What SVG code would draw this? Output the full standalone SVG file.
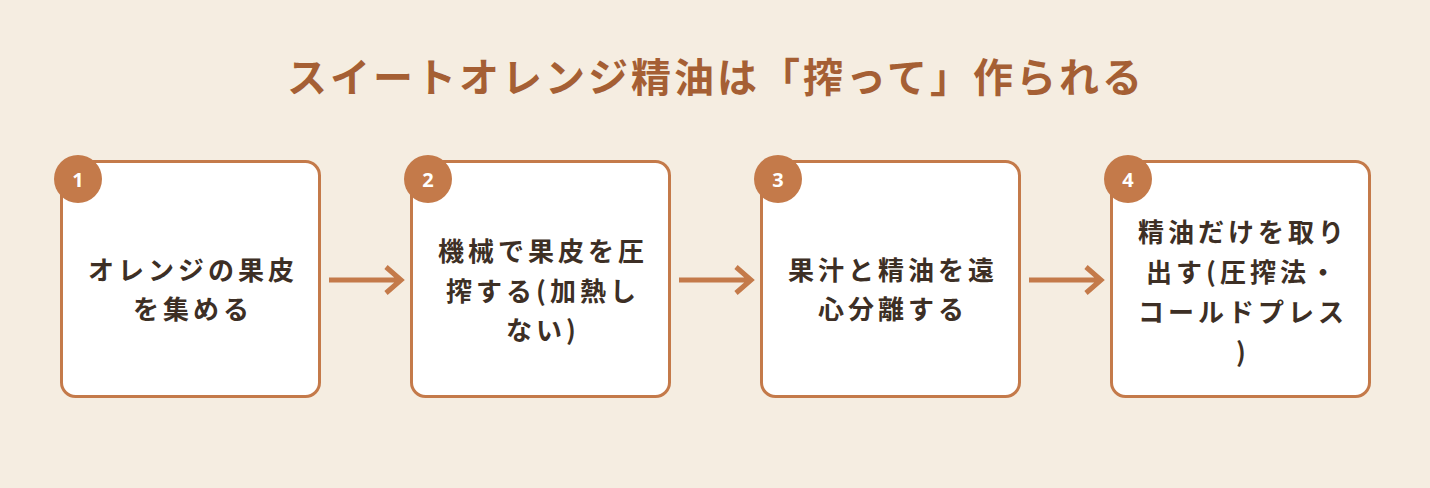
<svg xmlns="http://www.w3.org/2000/svg" width="1430" height="488" viewBox="0 0 1430 488">
<style>
.box{fill:#fff;stroke:#c47a4a;stroke-width:3}
.badge{fill:#c47a4a}
.num{fill:#fff;font:700 20px "Noto Sans","Noto Sans CJK JP",sans-serif;text-anchor:middle;dominant-baseline:central}
.t{fill:#3d2f25;font:700 26px "Noto Sans CJK JP",sans-serif;text-anchor:middle;dominant-baseline:central;letter-spacing:4px}
.title{fill:#a55f34;font:700 40px "Noto Sans CJK JP",sans-serif;text-anchor:middle;dominant-baseline:central;letter-spacing:3px}
.arr{stroke:#c47a4a;stroke-width:5;fill:none}
</style>
<rect width="1430" height="488" fill="#f5ede1"/>
<text class="title" x="716" y="75">スイートオレンジ精油は「搾って」作られる</text>
<g id="connectors">
<path class="arr" d="M329 280H401M386 267L401 280L386 293"/>
<path class="arr" d="M679 280H751M736 267L751 280L736 293"/>
<path class="arr" d="M1029 280H1101M1086 267L1101 280L1086 293"/>
</g>
<g id="n1">
<rect class="box" x="61.5" y="161.5" width="258" height="235" rx="14"/>
<circle class="badge" cx="78" cy="179" r="24"/><text class="num" x="78" y="179">1</text>
<text class="t" x="193" y="268">オレンジの果皮</text>
<text class="t" x="193" y="307">を集める</text>
</g>
<g id="n2">
<rect class="box" x="411.5" y="161.5" width="258" height="235" rx="14"/>
<circle class="badge" cx="428" cy="179" r="24"/><text class="num" x="428" y="179">2</text>
<text class="t" x="543" y="249">機械で果皮を圧</text>
<text class="t" x="543" y="289">搾する(加熱し</text>
<text class="t" x="543" y="328">ない)</text>
</g>
<g id="n3">
<rect class="box" x="761.5" y="161.5" width="258" height="235" rx="14"/>
<circle class="badge" cx="778" cy="179" r="24"/><text class="num" x="778" y="179">3</text>
<text class="t" x="893" y="268">果汁と精油を遠</text>
<text class="t" x="893" y="307">心分離する</text>
</g>
<g id="n4">
<rect class="box" x="1111.5" y="161.5" width="258" height="235" rx="14"/>
<circle class="badge" cx="1128" cy="179" r="24"/><text class="num" x="1128" y="179">4</text>
<text class="t" x="1243" y="230">精油だけを取り</text>
<text class="t" x="1243" y="270">出す(圧搾法・</text>
<text class="t" x="1243" y="310">コールドプレス</text>
<text class="t" x="1243" y="350">)</text>
</g>
</svg>
